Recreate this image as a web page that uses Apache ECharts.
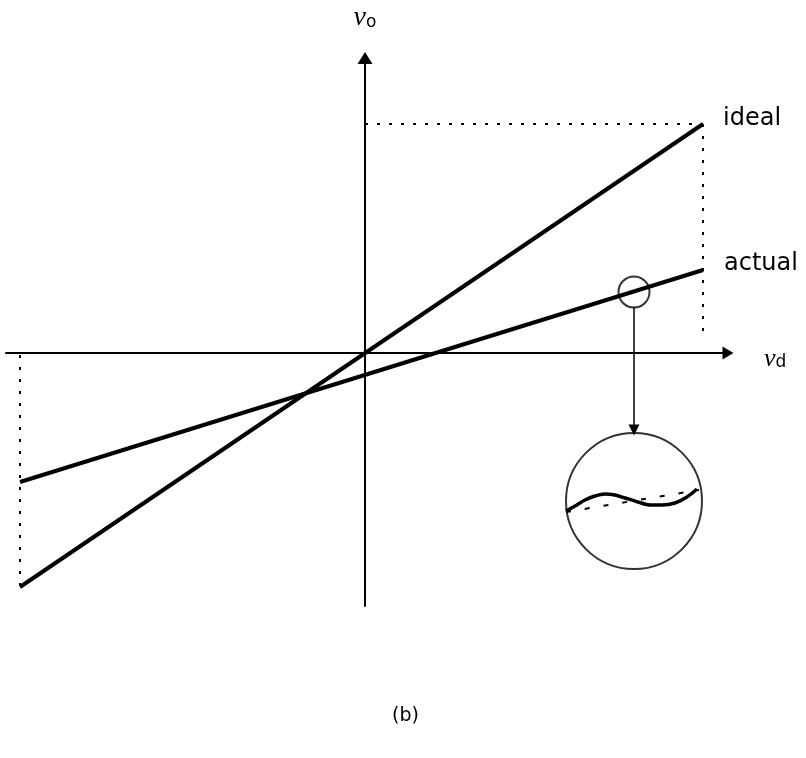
<!DOCTYPE html>
<html>
<head>
<meta charset="utf-8">
<script src="https://cdn.jsdelivr.net/npm/echarts@6/dist/echarts.min.js"></script>
<style>
  html, body { margin: 0; padding: 0; background: #fff; }
  #chart { width: 806px; height: 758px; }
</style>
</head>
<body>
<div id="chart"></div>
<script>
// transfer characteristic: ideal vs actual amplifier
// units are arbitrary, origin at (0, 0)
const idealLine = [[-34.5, -23.4], [33.8, 22.9]];
const actualLine = [[-34.5, -12.9], [33.8, 8.3]];

// dashed guide lines
const guideTop = [[0, 22.9], [33.8, 22.9]];
const guideRight = [[33.8, 22.9], [33.8, 1.3]];
const guideLeft = [[-34.5, -0.2], [-34.5, -23.4]];

// magnified detail of the actual curve
const zoomSpot = [[26.9, 6.1]];
const insetCenter = [[26.9, -14.8]];
const pointer = [[26.9, 4.6], [26.9, -7.7]];
const insetWave = [
  [20.1, -15.8], [21.0, -15.3], [22.0, -14.7], [23.0, -14.3], [24.0, -14.1],
  [25.0, -14.2], [26.0, -14.5], [27.3, -14.9], [28.5, -15.2], [29.7, -15.2],
  [31.0, -15.0], [32.2, -14.4], [33.2, -13.6],
];
const insetChord = [[20.1, -15.9], [33.4, -13.7]];

const labelFont = "'DejaVu Sans', sans-serif";
const mathFont = "'Liberation Serif', serif";

const chart = echarts.init(document.getElementById('chart'));

const dashed = (data) => ({
  type: 'line',
  data,
  symbol: 'none',
  silent: true,
  lineStyle: { color: '#000', width: 2, type: [3, 9] },
});

chart.setOption({
  animation: false,
  backgroundColor: '#fff',
  title: {
    text: '(b)',
    left: 387,
    top: 702,
    textStyle: { fontFamily: labelFont, fontWeight: 'normal', fontSize: 19, color: '#000' },
  },
  grid: { left: 6, right: 78, top: 58, bottom: 152 },
  xAxis: {
    type: 'value',
    min: -35.9,
    max: 36.3,
    axisLine: {
      onZero: true,
      symbol: ['none', 'triangle'],
      symbolSize: [13, 11],
      lineStyle: { color: '#000', width: 2 },
    },
    axisTick: { show: false },
    axisLabel: { show: false },
    splitLine: { show: false },
    name: '{v|v}{s|d}',
    nameLocation: 'end',
    nameGap: 36,
    nameTextStyle: {
      padding: [12, 0, 0, 0],
      rich: {
        v: { fontFamily: mathFont, fontStyle: 'italic', fontSize: 26, color: '#000' },
        s: { fontFamily: labelFont, fontSize: 17, color: '#000', padding: [8, 0, 0, 0] },
      },
    },
  },
  yAxis: {
    type: 'value',
    min: -25.3,
    max: 29.5,
    axisLine: {
      onZero: true,
      symbol: ['none', 'triangle'],
      symbolSize: [15, 12],
      lineStyle: { color: '#000', width: 2 },
    },
    axisTick: { show: false },
    axisLabel: { show: false },
    splitLine: { show: false },
    name: '{v|v}{s|o}',
    nameLocation: 'end',
    nameGap: 26,
    nameTextStyle: {
      rich: {
        v: { fontFamily: mathFont, fontStyle: 'italic', fontSize: 28, color: '#000' },
        s: { fontFamily: labelFont, fontSize: 17, color: '#000', padding: [10, 0, 0, 0] },
      },
    },
  },
  series: [
    dashed(guideTop),
    dashed(guideRight),
    dashed(guideLeft),
    {
      name: 'ideal',
      type: 'line',
      data: idealLine,
      symbol: 'none',
      lineStyle: { color: '#000', width: 4 },
      endLabel: {
        show: true,
        formatter: 'ideal',
        offset: [12, -5],
        fontFamily: labelFont,
        fontSize: 24,
        color: '#000',
      },
    },
    {
      name: 'actual',
      type: 'line',
      data: actualLine,
      symbol: 'none',
      lineStyle: { color: '#000', width: 4 },
      endLabel: {
        show: true,
        formatter: 'actual',
        offset: [13, -6],
        fontFamily: labelFont,
        fontSize: 24,
        color: '#000',
      },
    },
    {
      type: 'scatter',
      data: zoomSpot,
      symbol: 'circle',
      symbolSize: 31,
      itemStyle: { color: 'rgba(0,0,0,0)', borderColor: '#000', borderWidth: 2 },
      silent: true,
      markLine: {
        silent: true,
        symbol: ['none', 'triangle'],
        symbolSize: [11, 11],
        label: { show: false },
        lineStyle: { color: '#000', width: 1.5, type: 'solid' },
        data: [[{ coord: pointer[0] }, { coord: pointer[1] }]],
      },
    },
    {
      type: 'scatter',
      data: insetCenter,
      symbol: 'circle',
      symbolSize: 136,
      itemStyle: { color: 'rgba(0,0,0,0)', borderColor: '#000', borderWidth: 2 },
      silent: true,
    },
    {
      type: 'line',
      data: insetChord,
      symbol: 'none',
      silent: true,
      lineStyle: { color: '#000', width: 2, type: [5, 14] },
    },
    {
      type: 'line',
      data: insetWave,
      symbol: 'none',
      smooth: 0.3,
      silent: true,
      lineStyle: { color: '#000', width: 3.5 },
    },
  ],
});
</script>
</body>
</html>
